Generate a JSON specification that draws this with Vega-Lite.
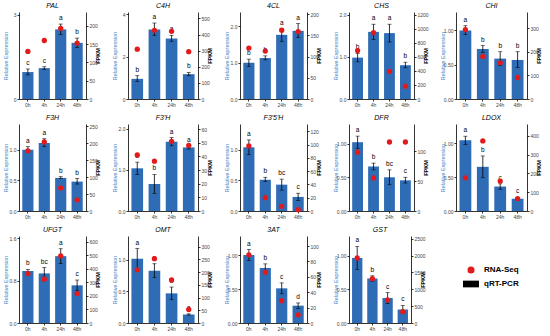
{
"$schema": "https://vega.github.io/schema/vega-lite/v6.json",
"padding": {"left": 3, "top": 2, "right": 0, "bottom": 0},
"background": "white",
"datasets": {
"expr": [
{"gene":"PAL","time":"0h","mean":0.96,"lo":0.86,"hi":1.07,"fpkm":130,"letter":"c"},
{"gene":"PAL","time":"4h","mean":1.1,"lo":1.05,"hi":1.15,"fpkm":160,"letter":"c"},
{"gene":"PAL","time":"24h","mean":2.48,"lo":2.3,"hi":2.67,"fpkm":193,"letter":"a"},
{"gene":"PAL","time":"48h","mean":2.0,"lo":1.83,"hi":2.17,"fpkm":153,"letter":"b"},
{"gene":"C4H","time":"0h","mean":0.95,"lo":0.83,"hi":1.1,"fpkm":309,"letter":"b"},
{"gene":"C4H","time":"4h","mean":3.28,"lo":3.0,"hi":3.58,"fpkm":426,"letter":"a"},
{"gene":"C4H","time":"24h","mean":2.85,"lo":2.72,"hi":3.0,"fpkm":420,"letter":"a"},
{"gene":"C4H","time":"48h","mean":1.17,"lo":1.1,"hi":1.25,"fpkm":294,"letter":"b"},
{"gene":"4CL","time":"0h","mean":1.0,"lo":0.9,"hi":1.1,"fpkm":120,"letter":"b"},
{"gene":"4CL","time":"4h","mean":1.13,"lo":1.08,"hi":1.19,"fpkm":113,"letter":"b"},
{"gene":"4CL","time":"24h","mean":1.77,"lo":1.59,"hi":1.94,"fpkm":162,"letter":"a"},
{"gene":"4CL","time":"48h","mean":1.88,"lo":1.7,"hi":2.08,"fpkm":159,"letter":"a"},
{"gene":"CHS","time":"0h","mean":0.98,"lo":0.88,"hi":1.08,"fpkm":690,"letter":"b"},
{"gene":"CHS","time":"4h","mean":1.59,"lo":1.41,"hi":1.77,"fpkm":945,"letter":"a"},
{"gene":"CHS","time":"24h","mean":1.56,"lo":1.35,"hi":1.77,"fpkm":395,"letter":"a"},
{"gene":"CHS","time":"48h","mean":0.8,"lo":0.74,"hi":0.87,"fpkm":183,"letter":"b"},
{"gene":"CHI","time":"0h","mean":1.0,"lo":0.94,"hi":1.07,"fpkm":293,"letter":"a"},
{"gene":"CHI","time":"4h","mean":0.73,"lo":0.68,"hi":0.78,"fpkm":180,"letter":"b"},
{"gene":"CHI","time":"24h","mean":0.59,"lo":0.49,"hi":0.69,"fpkm":153,"letter":"b"},
{"gene":"CHI","time":"48h","mean":0.57,"lo":0.46,"hi":0.69,"fpkm":91,"letter":"b"},
{"gene":"F3H","time":"0h","mean":1.0,"lo":0.96,"hi":1.05,"fpkm":177,"letter":"a"},
{"gene":"F3H","time":"4h","mean":1.11,"lo":1.05,"hi":1.18,"fpkm":203,"letter":"a"},
{"gene":"F3H","time":"24h","mean":0.54,"lo":0.53,"hi":0.56,"fpkm":68,"letter":"b"},
{"gene":"F3H","time":"48h","mean":0.48,"lo":0.44,"hi":0.53,"fpkm":33,"letter":"b"},
{"gene":"F3'H","time":"0h","mean":1.04,"lo":0.89,"hi":1.19,"fpkm":41,"letter":"b"},
{"gene":"F3'H","time":"4h","mean":0.66,"lo":0.43,"hi":0.89,"fpkm":36.5,"letter":"b"},
{"gene":"F3'H","time":"24h","mean":1.69,"lo":1.59,"hi":1.79,"fpkm":51,"letter":"a"},
{"gene":"F3'H","time":"48h","mean":1.55,"lo":1.51,"hi":1.59,"fpkm":48,"letter":"a"},
{"gene":"F3'5'H","time":"0h","mean":1.04,"lo":0.92,"hi":1.16,"fpkm":98,"letter":"a"},
{"gene":"F3'5'H","time":"4h","mean":0.51,"lo":0.48,"hi":0.55,"fpkm":20,"letter":"b"},
{"gene":"F3'5'H","time":"24h","mean":0.43,"lo":0.34,"hi":0.52,"fpkm":7,"letter":"bc"},
{"gene":"F3'5'H","time":"48h","mean":0.23,"lo":0.17,"hi":0.29,"fpkm":2,"letter":"c"},
{"gene":"DFR","time":"0h","mean":1.02,"lo":0.93,"hi":1.11,"fpkm":98,"letter":"a"},
{"gene":"DFR","time":"4h","mean":0.66,"lo":0.61,"hi":0.71,"fpkm":55,"letter":"b"},
{"gene":"DFR","time":"24h","mean":0.5,"lo":0.39,"hi":0.61,"fpkm":115,"letter":"bc"},
{"gene":"DFR","time":"48h","mean":0.455,"lo":0.415,"hi":0.5,"fpkm":115,"letter":"c"},
{"gene":"LDOX","time":"0h","mean":1.04,"lo":0.98,"hi":1.1,"fpkm":176,"letter":"a"},
{"gene":"LDOX","time":"4h","mean":0.65,"lo":0.49,"hi":0.81,"fpkm":372,"letter":"b"},
{"gene":"LDOX","time":"24h","mean":0.36,"lo":0.32,"hi":0.4,"fpkm":159,"letter":"c"},
{"gene":"LDOX","time":"48h","mean":0.18,"lo":0.16,"hi":0.2,"fpkm":66,"letter":"c"},
{"gene":"UFGT","time":"0h","mean":0.98,"lo":0.95,"hi":1.01,"fpkm":364,"letter":"b"},
{"gene":"UFGT","time":"4h","mean":0.935,"lo":0.825,"hi":1.045,"fpkm":323,"letter":"bc"},
{"gene":"UFGT","time":"24h","mean":1.26,"lo":1.12,"hi":1.4,"fpkm":494,"letter":"a"},
{"gene":"UFGT","time":"48h","mean":0.71,"lo":0.61,"hi":0.81,"fpkm":217,"letter":"c"},
{"gene":"OMT","time":"0h","mean":1.02,"lo":0.86,"hi":1.18,"fpkm":209,"letter":"a"},
{"gene":"OMT","time":"4h","mean":0.83,"lo":0.72,"hi":0.94,"fpkm":253,"letter":"a"},
{"gene":"OMT","time":"24h","mean":0.47,"lo":0.37,"hi":0.57,"fpkm":169,"letter":"b"},
{"gene":"OMT","time":"48h","mean":0.135,"lo":0.125,"hi":0.145,"fpkm":53,"letter":"c"},
{"gene":"3AT","time":"0h","mean":1.0,"lo":0.92,"hi":1.08,"fpkm":88.5,"letter":"a"},
{"gene":"3AT","time":"4h","mean":0.81,"lo":0.75,"hi":0.87,"fpkm":66,"letter":"b"},
{"gene":"3AT","time":"24h","mean":0.51,"lo":0.43,"hi":0.59,"fpkm":29,"letter":"c"},
{"gene":"3AT","time":"48h","mean":0.255,"lo":0.215,"hi":0.295,"fpkm":10.6,"letter":"d"},
{"gene":"GST","time":"0h","mean":0.965,"lo":0.795,"hi":1.135,"fpkm":1927,"letter":"a"},
{"gene":"GST","time":"4h","mean":0.66,"lo":0.62,"hi":0.7,"fpkm":1314,"letter":"b"},
{"gene":"GST","time":"24h","mean":0.37,"lo":0.29,"hi":0.45,"fpkm":682,"letter":"c"},
{"gene":"GST","time":"48h","mean":0.2,"lo":0.14,"hi":0.26,"fpkm":336,"letter":"c"}
],
"legend": [{"item":"RNA-Seq"},{"item":"qRT-PCR"}]
},
"bounds": "flush",
"columns": 5,
"spacing": {"row": 25, "column": 42},
"concat": [
{"width":67,"height":87,"title":"PAL","data":{"name":"expr"},"transform":[{"filter":{"field":"gene","equal":"PAL"}}],
"encoding":{"x":{"field":"time","type":"nominal","sort":["0h","4h","24h","48h"],"scale":{"paddingInner":0.32,"paddingOuter":0.2},"axis":{"title":null}}},
"layer":[{"layer":[
{"mark":{"type":"bar","color":"#2e6db5"},"encoding":{"y":{"field":"mean","type":"quantitative","title":"Relative Expression","scale":{"domain":[0,3.1],"nice":false},"axis":{"orient":"left","values":[0,1,2,3],"format":"d"}}}},
{"mark":{"type":"errorbar","ticks":true,"color":"black","size":4,"thickness":0.8},"encoding":{"y":{"field":"lo","type":"quantitative","title":"Relative Expression"},"y2":{"field":"hi"}}},
{"mark":{"type":"text","baseline":"bottom","dy":-3,"fontSize":6.5},"encoding":{"y":{"field":"hi","type":"quantitative","title":"Relative Expression"},"text":{"field":"letter"}}}]},
{"mark":{"type":"point","filled":true,"color":"#e31a1c","size":28,"opacity":1},"encoding":{"y":{"field":"fpkm","type":"quantitative","scale":{"domain":[0,238],"nice":false},"axis":{"orient":"right","title":"FPKM","values":[0,50,100,150,200]}}}}],
"resolve":{"scale":{"y":"independent"}}},
{"width":70,"height":87,"title":"C4H","data":{"name":"expr"},"transform":[{"filter":{"field":"gene","equal":"C4H"}}],
"encoding":{"x":{"field":"time","type":"nominal","sort":["0h","4h","24h","48h"],"scale":{"paddingInner":0.32,"paddingOuter":0.2},"axis":{"title":null}}},
"layer":[{"layer":[
{"mark":{"type":"bar","color":"#2e6db5"},"encoding":{"y":{"field":"mean","type":"quantitative","title":"Relative Expression","scale":{"domain":[0,4.1],"nice":false},"axis":{"orient":"left","values":[0,1,2,3,4],"format":"d"}}}},
{"mark":{"type":"errorbar","ticks":true,"color":"black","size":4,"thickness":0.8},"encoding":{"y":{"field":"lo","type":"quantitative","title":"Relative Expression"},"y2":{"field":"hi"}}},
{"mark":{"type":"text","baseline":"bottom","dy":-3,"fontSize":6.5},"encoding":{"y":{"field":"hi","type":"quantitative","title":"Relative Expression"},"text":{"field":"letter"}}}]},
{"mark":{"type":"point","filled":true,"color":"#e31a1c","size":28,"opacity":1},"encoding":{"y":{"field":"fpkm","type":"quantitative","scale":{"domain":[0,540],"nice":false},"axis":{"orient":"right","title":"FPKM","values":[0,100,200,300,400,500]}}}}],
"resolve":{"scale":{"y":"independent"}}},
{"width":67,"height":87,"title":"4CL","data":{"name":"expr"},"transform":[{"filter":{"field":"gene","equal":"4CL"}}],
"encoding":{"x":{"field":"time","type":"nominal","sort":["0h","4h","24h","48h"],"scale":{"paddingInner":0.32,"paddingOuter":0.2},"axis":{"title":null}}},
"layer":[{"layer":[
{"mark":{"type":"bar","color":"#2e6db5"},"encoding":{"y":{"field":"mean","type":"quantitative","title":"Relative Expression","scale":{"domain":[0,2.4],"nice":false},"axis":{"orient":"left","values":[0,0.5,1,1.5,2],"format":".1f"}}}},
{"mark":{"type":"errorbar","ticks":true,"color":"black","size":4,"thickness":0.8},"encoding":{"y":{"field":"lo","type":"quantitative","title":"Relative Expression"},"y2":{"field":"hi"}}},
{"mark":{"type":"text","baseline":"bottom","dy":-3,"fontSize":6.5},"encoding":{"y":{"field":"hi","type":"quantitative","title":"Relative Expression"},"text":{"field":"letter"}}}]},
{"mark":{"type":"point","filled":true,"color":"#e31a1c","size":28,"opacity":1},"encoding":{"y":{"field":"fpkm","type":"quantitative","scale":{"domain":[0,205],"nice":false},"axis":{"orient":"right","title":"FPKM","values":[0,50,100,150,200]}}}}],
"resolve":{"scale":{"y":"independent"}}},
{"width":65,"height":87,"title":"CHS","data":{"name":"expr"},"transform":[{"filter":{"field":"gene","equal":"CHS"}}],
"encoding":{"x":{"field":"time","type":"nominal","sort":["0h","4h","24h","48h"],"scale":{"paddingInner":0.32,"paddingOuter":0.2},"axis":{"title":null}}},
"layer":[{"layer":[
{"mark":{"type":"bar","color":"#2e6db5"},"encoding":{"y":{"field":"mean","type":"quantitative","title":"Relative Expression","scale":{"domain":[0,2.06],"nice":false},"axis":{"orient":"left","values":[0,0.5,1,1.5,2],"format":".1f"}}}},
{"mark":{"type":"errorbar","ticks":true,"color":"black","size":4,"thickness":0.8},"encoding":{"y":{"field":"lo","type":"quantitative","title":"Relative Expression"},"y2":{"field":"hi"}}},
{"mark":{"type":"text","baseline":"bottom","dy":-3,"fontSize":6.5},"encoding":{"y":{"field":"hi","type":"quantitative","title":"Relative Expression"},"text":{"field":"letter"}}}]},
{"mark":{"type":"point","filled":true,"color":"#e31a1c","size":28,"opacity":1},"encoding":{"y":{"field":"fpkm","type":"quantitative","scale":{"domain":[0,1240],"nice":false},"axis":{"orient":"right","title":"FPKM","values":[0,200,400,600,800,1000,1200]}}}}],
"resolve":{"scale":{"y":"independent"}}},
{"width":71,"height":87,"title":"CHI","data":{"name":"expr"},"transform":[{"filter":{"field":"gene","equal":"CHI"}}],
"encoding":{"x":{"field":"time","type":"nominal","sort":["0h","4h","24h","48h"],"scale":{"paddingInner":0.32,"paddingOuter":0.2},"axis":{"title":null}}},
"layer":[{"layer":[
{"mark":{"type":"bar","color":"#2e6db5"},"encoding":{"y":{"field":"mean","type":"quantitative","title":"Relative Expression","scale":{"domain":[0,1.27],"nice":false},"axis":{"orient":"left","values":[0,0.25,0.5,0.75,1,1.25],"format":".2f"}}}},
{"mark":{"type":"errorbar","ticks":true,"color":"black","size":4,"thickness":0.8},"encoding":{"y":{"field":"lo","type":"quantitative","title":"Relative Expression"},"y2":{"field":"hi"}}},
{"mark":{"type":"text","baseline":"bottom","dy":-3,"fontSize":6.5},"encoding":{"y":{"field":"hi","type":"quantitative","title":"Relative Expression"},"text":{"field":"letter"}}}]},
{"mark":{"type":"point","filled":true,"color":"#e31a1c","size":28,"opacity":1},"encoding":{"y":{"field":"fpkm","type":"quantitative","scale":{"domain":[0,368],"nice":false},"axis":{"orient":"right","title":"FPKM","values":[0,100,200,300]}}}}],
"resolve":{"scale":{"y":"independent"}}},
{"width":67,"height":87,"title":"F3H","data":{"name":"expr"},"transform":[{"filter":{"field":"gene","equal":"F3H"}}],
"encoding":{"x":{"field":"time","type":"nominal","sort":["0h","4h","24h","48h"],"scale":{"paddingInner":0.32,"paddingOuter":0.2},"axis":{"title":null}}},
"layer":[{"layer":[
{"mark":{"type":"bar","color":"#2e6db5"},"encoding":{"y":{"field":"mean","type":"quantitative","title":"Relative Expression","scale":{"domain":[0,1.42],"nice":false},"axis":{"orient":"left","values":[0,0.5,1],"format":".1f"}}}},
{"mark":{"type":"errorbar","ticks":true,"color":"black","size":4,"thickness":0.8},"encoding":{"y":{"field":"lo","type":"quantitative","title":"Relative Expression"},"y2":{"field":"hi"}}},
{"mark":{"type":"text","baseline":"bottom","dy":-3,"fontSize":6.5},"encoding":{"y":{"field":"hi","type":"quantitative","title":"Relative Expression"},"text":{"field":"letter"}}}]},
{"mark":{"type":"point","filled":true,"color":"#e31a1c","size":28,"opacity":1},"encoding":{"y":{"field":"fpkm","type":"quantitative","scale":{"domain":[0,256],"nice":false},"axis":{"orient":"right","title":"FPKM","values":[0,50,100,150,200,250]}}}}],
"resolve":{"scale":{"y":"independent"}}},
{"width":70,"height":87,"title":"F3'H","data":{"name":"expr"},"transform":[{"filter":{"field":"gene","equal":"F3'H"}}],
"encoding":{"x":{"field":"time","type":"nominal","sort":["0h","4h","24h","48h"],"scale":{"paddingInner":0.32,"paddingOuter":0.2},"axis":{"title":null}}},
"layer":[{"layer":[
{"mark":{"type":"bar","color":"#2e6db5"},"encoding":{"y":{"field":"mean","type":"quantitative","title":"Relative Expression","scale":{"domain":[0,2.12],"nice":false},"axis":{"orient":"left","values":[0,0.5,1,1.5,2],"format":".1f"}}}},
{"mark":{"type":"errorbar","ticks":true,"color":"black","size":4,"thickness":0.8},"encoding":{"y":{"field":"lo","type":"quantitative","title":"Relative Expression"},"y2":{"field":"hi"}}},
{"mark":{"type":"text","baseline":"bottom","dy":-3,"fontSize":6.5},"encoding":{"y":{"field":"hi","type":"quantitative","title":"Relative Expression"},"text":{"field":"letter"}}}]},
{"mark":{"type":"point","filled":true,"color":"#e31a1c","size":28,"opacity":1},"encoding":{"y":{"field":"fpkm","type":"quantitative","scale":{"domain":[0,63.7],"nice":false},"axis":{"orient":"right","title":"FPKM","values":[0,10,20,30,40,50,60]}}}}],
"resolve":{"scale":{"y":"independent"}}},
{"width":67,"height":87,"title":"F3'5'H","data":{"name":"expr"},"transform":[{"filter":{"field":"gene","equal":"F3'5'H"}}],
"encoding":{"x":{"field":"time","type":"nominal","sort":["0h","4h","24h","48h"],"scale":{"paddingInner":0.32,"paddingOuter":0.2},"axis":{"title":null}}},
"layer":[{"layer":[
{"mark":{"type":"bar","color":"#2e6db5"},"encoding":{"y":{"field":"mean","type":"quantitative","title":"Relative Expression","scale":{"domain":[0,1.42],"nice":false},"axis":{"orient":"left","values":[0,0.5,1],"format":".1f"}}}},
{"mark":{"type":"errorbar","ticks":true,"color":"black","size":4,"thickness":0.8},"encoding":{"y":{"field":"lo","type":"quantitative","title":"Relative Expression"},"y2":{"field":"hi"}}},
{"mark":{"type":"text","baseline":"bottom","dy":-3,"fontSize":6.5},"encoding":{"y":{"field":"hi","type":"quantitative","title":"Relative Expression"},"text":{"field":"letter"}}}]},
{"mark":{"type":"point","filled":true,"color":"#e31a1c","size":28,"opacity":1},"encoding":{"y":{"field":"fpkm","type":"quantitative","scale":{"domain":[0,131],"nice":false},"axis":{"orient":"right","title":"FPKM","values":[0,20,40,60,80,100,120]}}}}],
"resolve":{"scale":{"y":"independent"}}},
{"width":65,"height":87,"title":"DFR","data":{"name":"expr"},"transform":[{"filter":{"field":"gene","equal":"DFR"}}],
"encoding":{"x":{"field":"time","type":"nominal","sort":["0h","4h","24h","48h"],"scale":{"paddingInner":0.32,"paddingOuter":0.2},"axis":{"title":null}}},
"layer":[{"layer":[
{"mark":{"type":"bar","color":"#2e6db5"},"encoding":{"y":{"field":"mean","type":"quantitative","title":"Relative Expression","scale":{"domain":[0,1.29],"nice":false},"axis":{"orient":"left","values":[0,0.25,0.5,0.75,1,1.25],"format":".2f"}}}},
{"mark":{"type":"errorbar","ticks":true,"color":"black","size":4,"thickness":0.8},"encoding":{"y":{"field":"lo","type":"quantitative","title":"Relative Expression"},"y2":{"field":"hi"}}},
{"mark":{"type":"text","baseline":"bottom","dy":-3,"fontSize":6.5},"encoding":{"y":{"field":"hi","type":"quantitative","title":"Relative Expression"},"text":{"field":"letter"}}}]},
{"mark":{"type":"point","filled":true,"color":"#e31a1c","size":28,"opacity":1},"encoding":{"y":{"field":"fpkm","type":"quantitative","scale":{"domain":[0,145],"nice":false},"axis":{"orient":"right","title":"FPKM","values":[0,50,100]}}}}],
"resolve":{"scale":{"y":"independent"}}},
{"width":71,"height":87,"title":"LDOX","data":{"name":"expr"},"transform":[{"filter":{"field":"gene","equal":"LDOX"}}],
"encoding":{"x":{"field":"time","type":"nominal","sort":["0h","4h","24h","48h"],"scale":{"paddingInner":0.32,"paddingOuter":0.2},"axis":{"title":null}}},
"layer":[{"layer":[
{"mark":{"type":"bar","color":"#2e6db5"},"encoding":{"y":{"field":"mean","type":"quantitative","title":"Relative Expression","scale":{"domain":[0,1.28],"nice":false},"axis":{"orient":"left","values":[0,0.25,0.5,0.75,1,1.25],"format":".2f"}}}},
{"mark":{"type":"errorbar","ticks":true,"color":"black","size":4,"thickness":0.8},"encoding":{"y":{"field":"lo","type":"quantitative","title":"Relative Expression"},"y2":{"field":"hi"}}},
{"mark":{"type":"text","baseline":"bottom","dy":-3,"fontSize":6.5},"encoding":{"y":{"field":"hi","type":"quantitative","title":"Relative Expression"},"text":{"field":"letter"}}}]},
{"mark":{"type":"point","filled":true,"color":"#e31a1c","size":28,"opacity":1},"encoding":{"y":{"field":"fpkm","type":"quantitative","scale":{"domain":[0,462],"nice":false},"axis":{"orient":"right","title":"FPKM","values":[0,100,200,300,400]}}}}],
"resolve":{"scale":{"y":"independent"}}},
{"width":67,"height":87,"title":"UFGT","data":{"name":"expr"},"transform":[{"filter":{"field":"gene","equal":"UFGT"}}],
"encoding":{"x":{"field":"time","type":"nominal","sort":["0h","4h","24h","48h"],"scale":{"paddingInner":0.32,"paddingOuter":0.2},"axis":{"title":null}}},
"layer":[{"layer":[
{"mark":{"type":"bar","color":"#2e6db5"},"encoding":{"y":{"field":"mean","type":"quantitative","title":"Relative Expression","scale":{"domain":[0,1.64],"nice":false},"axis":{"orient":"left","values":[0,0.4,0.8,1.2,1.6],"format":".1f"}}}},
{"mark":{"type":"errorbar","ticks":true,"color":"black","size":4,"thickness":0.8},"encoding":{"y":{"field":"lo","type":"quantitative","title":"Relative Expression"},"y2":{"field":"hi"}}},
{"mark":{"type":"text","baseline":"bottom","dy":-3,"fontSize":6.5},"encoding":{"y":{"field":"hi","type":"quantitative","title":"Relative Expression"},"text":{"field":"letter"}}}]},
{"mark":{"type":"point","filled":true,"color":"#e31a1c","size":28,"opacity":1},"encoding":{"y":{"field":"fpkm","type":"quantitative","scale":{"domain":[0,641],"nice":false},"axis":{"orient":"right","title":"FPKM","values":[0,100,200,300,400,500,600]}}}}],
"resolve":{"scale":{"y":"independent"}}},
{"width":70,"height":87,"title":"OMT","data":{"name":"expr"},"transform":[{"filter":{"field":"gene","equal":"OMT"}}],
"encoding":{"x":{"field":"time","type":"nominal","sort":["0h","4h","24h","48h"],"scale":{"paddingInner":0.32,"paddingOuter":0.2},"axis":{"title":null}}},
"layer":[{"layer":[
{"mark":{"type":"bar","color":"#2e6db5"},"encoding":{"y":{"field":"mean","type":"quantitative","title":"Relative Expression","scale":{"domain":[0,1.38],"nice":false},"axis":{"orient":"left","values":[0,0.5,1],"format":".1f"}}}},
{"mark":{"type":"errorbar","ticks":true,"color":"black","size":4,"thickness":0.8},"encoding":{"y":{"field":"lo","type":"quantitative","title":"Relative Expression"},"y2":{"field":"hi"}}},
{"mark":{"type":"text","baseline":"bottom","dy":-3,"fontSize":6.5},"encoding":{"y":{"field":"hi","type":"quantitative","title":"Relative Expression"},"text":{"field":"letter"}}}]},
{"mark":{"type":"point","filled":true,"color":"#e31a1c","size":28,"opacity":1},"encoding":{"y":{"field":"fpkm","type":"quantitative","scale":{"domain":[0,342],"nice":false},"axis":{"orient":"right","title":"FPKM","values":[0,50,100,150,200,250,300]}}}}],
"resolve":{"scale":{"y":"independent"}}},
{"width":67,"height":87,"title":"3AT","data":{"name":"expr"},"transform":[{"filter":{"field":"gene","equal":"3AT"}}],
"encoding":{"x":{"field":"time","type":"nominal","sort":["0h","4h","24h","48h"],"scale":{"paddingInner":0.32,"paddingOuter":0.2},"axis":{"title":null}}},
"layer":[{"layer":[
{"mark":{"type":"bar","color":"#2e6db5"},"encoding":{"y":{"field":"mean","type":"quantitative","title":"Relative Expression","scale":{"domain":[0,1.28],"nice":false},"axis":{"orient":"left","values":[0,0.25,0.5,0.75,1,1.25],"format":".2f"}}}},
{"mark":{"type":"errorbar","ticks":true,"color":"black","size":4,"thickness":0.8},"encoding":{"y":{"field":"lo","type":"quantitative","title":"Relative Expression"},"y2":{"field":"hi"}}},
{"mark":{"type":"text","baseline":"bottom","dy":-3,"fontSize":6.5},"encoding":{"y":{"field":"hi","type":"quantitative","title":"Relative Expression"},"text":{"field":"letter"}}}]},
{"mark":{"type":"point","filled":true,"color":"#e31a1c","size":28,"opacity":1},"encoding":{"y":{"field":"fpkm","type":"quantitative","scale":{"domain":[0,113],"nice":false},"axis":{"orient":"right","title":"FPKM","values":[0,20,40,60,80,100]}}}}],
"resolve":{"scale":{"y":"independent"}}},
{"width":62,"height":87,"title":"GST","data":{"name":"expr"},"transform":[{"filter":{"field":"gene","equal":"GST"}}],
"encoding":{"x":{"field":"time","type":"nominal","sort":["0h","4h","24h","48h"],"scale":{"paddingInner":0.32,"paddingOuter":0.2},"axis":{"title":null}}},
"layer":[{"layer":[
{"mark":{"type":"bar","color":"#2e6db5"},"encoding":{"y":{"field":"mean","type":"quantitative","title":"Relative Expression","scale":{"domain":[0,1.29],"nice":false},"axis":{"orient":"left","values":[0,0.25,0.5,0.75,1,1.25],"format":".2f"}}}},
{"mark":{"type":"errorbar","ticks":true,"color":"black","size":4,"thickness":0.8},"encoding":{"y":{"field":"lo","type":"quantitative","title":"Relative Expression"},"y2":{"field":"hi"}}},
{"mark":{"type":"text","baseline":"bottom","dy":-3,"fontSize":6.5},"encoding":{"y":{"field":"hi","type":"quantitative","title":"Relative Expression"},"text":{"field":"letter"}}}]},
{"mark":{"type":"point","filled":true,"color":"#e31a1c","size":28,"opacity":1},"encoding":{"y":{"field":"fpkm","type":"quantitative","scale":{"domain":[0,2580],"nice":false},"axis":{"orient":"right","title":"FPKM","values":[0,500,1000,1500,2000,2500]}}}}],
"resolve":{"scale":{"y":"independent"}}},
{"width":30,"height":87,"data":{"name":"legend"},
"encoding":{"y":{"field":"item","type":"nominal","scale":{"type":"point","domain":["RNA-Seq","qRT-PCR"],"range":[34,48],"padding":0},"axis":null}},
"layer":[
{"transform":[{"filter":{"field":"item","equal":"RNA-Seq"}}],"mark":{"type":"point","filled":true,"color":"#e31a1c","size":50,"opacity":1}},
{"transform":[{"filter":{"field":"item","equal":"qRT-PCR"}}],"mark":{"type":"point","filled":true,"color":"black","shape":"M-1,-0.42H1V0.42H-1Z","size":256,"opacity":1}},
{"mark":{"type":"text","align":"left","dx":13,"fontSize":8,"fontWeight":"bold","color":"black"},"encoding":{"text":{"field":"item"}}}
]}
],
"config": {
"font": "Liberation Sans",
"view": {"stroke": null},
"axis": {"labelFontSize": 5, "labelColor": "#444", "domainColor": "black", "tickColor": "black", "tickSize": 2, "labelPadding": 1, "grid": false, "titleFontSize": 5.5, "domainWidth": 0.8, "tickWidth": 0.8},
"axisX": {"labelAngle": 0, "labelFontSize": 5},
"axisLeft": {"titleColor": "#3d85c6", "titleFontWeight": "normal", "minExtent": 9, "maxExtent": 9, "titlePadding": 2},
"axisRight": {"titleColor": "black", "titleFontWeight": "bold", "minExtent": 12, "maxExtent": 12, "titlePadding": 2, "format": "d", "titleAngle": 270},
"title": {"fontSize": 7, "fontStyle": "italic", "fontWeight": "normal", "offset": 3}
}
}
